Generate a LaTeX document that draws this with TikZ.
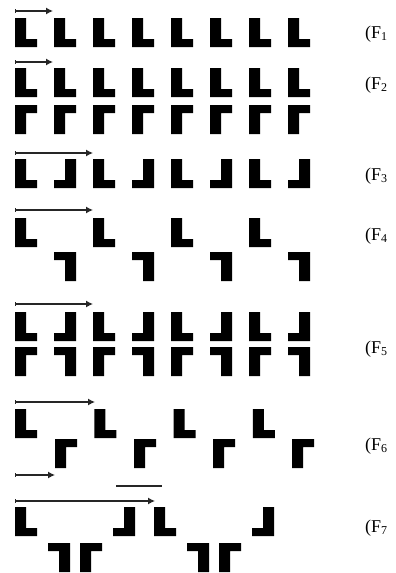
\documentclass[tikz,border=0pt]{standalone}
\usepackage{fontspec}
\setmainfont{Liberation Serif}
\usetikzlibrary{arrows.meta}
\newcommand\fsub[1]{\raisebox{-0.35ex}{\fontsize{12}{12}\selectfont #1}}
\tikzset{
  Lsh/.pic={\fill (0,0) -- (11,0) -- (11,21) -- (22,21) -- (22,29) -- (0,29) -- cycle;},
  Jsh/.pic={\fill (11,0) -- (22,0) -- (22,29) -- (0,29) -- (0,21) -- (11,21) -- cycle;},
  Gsh/.pic={\fill (0,0) -- (22,0) -- (22,8) -- (11,8) -- (11,29) -- (0,29) -- cycle;},
  Ssh/.pic={\fill (0,0) -- (22,0) -- (22,29) -- (11,29) -- (11,8) -- (0,8) -- cycle;},
  vec/.style={line width=1.2pt, draw=black!85, {Bar[width=3.5pt,line width=1pt]}-{Latex[length=7pt,width=7pt]}},
  plainline/.style={line width=1.2pt, draw=black!85},
  lab/.style={anchor=base west, inner sep=0pt, font=\fontsize{18}{20}\selectfont},
}
\begin{document}
\begin{tikzpicture}[x=1pt,y=-1pt]
\useasboundingbox (0,0) rectangle (396,573);
% F1
\coordinate (a1s) at (15,11); \coordinate (a1e) at (53,11);
\draw[vec] (a1s) -- (a1e);
\foreach \k in {0,...,7} \pic at ({15+39*\k},18) {Lsh};
% F2
\coordinate (a2s) at (15,62); \coordinate (a2e) at (53,62);
\draw[vec] (a2s) -- (a2e);
\foreach \k in {0,...,7} {\pic at ({15+39*\k},68) {Lsh}; \pic at ({15+39*\k},105) {Gsh};}
% F3
\coordinate (a3s) at (15,153); \coordinate (a3e) at (93,153);
\draw[vec] (a3s) -- (a3e);
\foreach \k in {0,2,4,6} \pic at ({15+39*\k},159) {Lsh};
\foreach \k in {1,3,5,7} \pic at ({15+39*\k},159) {Jsh};
% F4
\coordinate (a4s) at (15,210); \coordinate (a4e) at (93,210);
\draw[vec] (a4s) -- (a4e);
\foreach \k in {0,2,4,6} \pic at ({15+39*\k},218) {Lsh};
\foreach \k in {1,3,5,7} \pic at ({15+39*\k},252) {Ssh};
% F5
\coordinate (a5s) at (15,304); \coordinate (a5e) at (93,304);
\draw[vec] (a5s) -- (a5e);
\foreach \k in {0,2,4,6} {\pic at ({15+39*\k},312) {Lsh}; \pic at ({15+39*\k},347) {Gsh};}
\foreach \k in {1,3,5,7} {\pic at ({15+39*\k},312) {Jsh}; \pic at ({15+39*\k},347) {Ssh};}
% F6
\coordinate (a6s) at (15,402); \coordinate (a6e) at (95,402);
\draw[vec] (a6s) -- (a6e);
\foreach \k in {0,...,3} {\pic at ({15+79.3*\k},409) {Lsh}; \pic at ({55+79*\k},439) {Gsh};}
% F7
\coordinate (a7s) at (15,475); \coordinate (a7e) at (55,475);
\draw[vec] (a7s) -- (a7e);
\coordinate (b7s) at (116,486); \coordinate (b7e) at (162,486);
\draw[plainline] (b7s) -- (b7e);
\coordinate (c7s) at (15,501); \coordinate (c7e) at (155,501);
\draw[vec] (c7s) -- (c7e);
\foreach \k in {0,1} {
  \pic at ({15+139*\k},507) {Lsh};
  \pic at ({113+139*\k},507) {Jsh};
  \pic at ({48+139*\k},543) {Ssh};
  \pic at ({80+139*\k},543) {Gsh};
}
% labels
\node[lab] (f1) at (365,38) {(F\fsub{1}};
\node[lab] (f2) at (365,89) {(F\fsub{2}};
\node[lab] (f3) at (365,180) {(F\fsub{3}};
\node[lab] (f4) at (365,240) {(F\fsub{4}};
\node[lab] (f5) at (365,353) {(F\fsub{5}};
\node[lab] (f6) at (365,450) {(F\fsub{6}};
\node[lab] (f7) at (365,532) {(F\fsub{7}};
\end{tikzpicture}
\end{document}
